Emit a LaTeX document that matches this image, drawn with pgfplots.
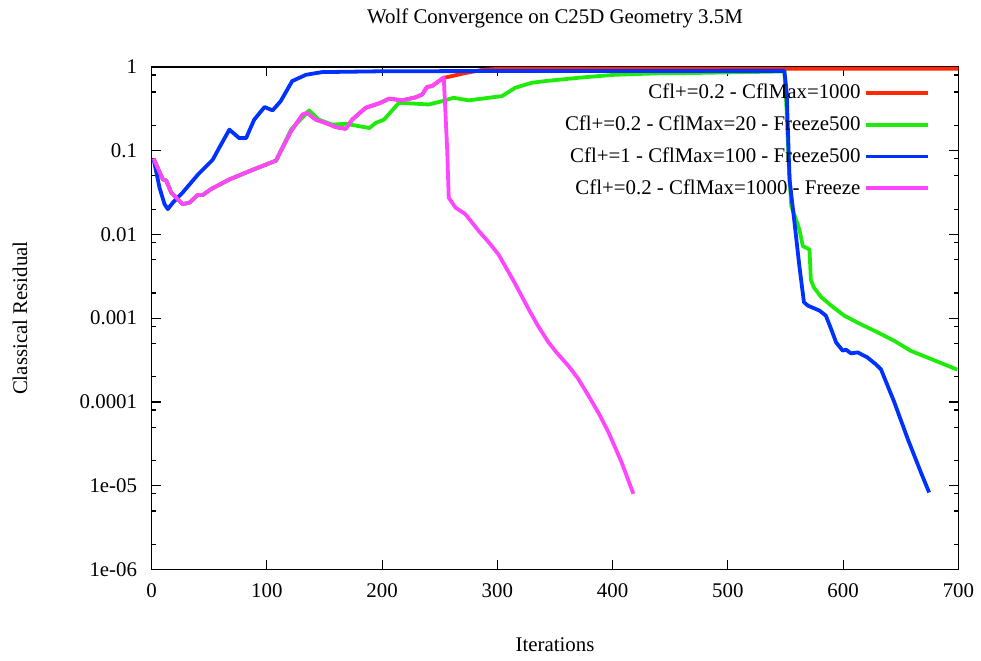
\documentclass[border=0pt]{standalone}
\usepackage{fontspec}
\setmainfont{Liberation Serif}
\usepackage{pgfplots}
\pgfplotsset{compat=1.18}
\definecolor{cred}{RGB}{255,40,0}
\definecolor{cgreen}{RGB}{30,235,10}
\definecolor{cblue}{RGB}{0,50,255}
\definecolor{cpink}{RGB}{255,70,255}
\begin{document}
\fontsize{10.5}{12}\selectfont
\begin{tikzpicture}
\begin{axis}[name=ax,
  scale only axis, width=404.5bp, height=252bp,
  xmin=0, xmax=700, ymin=1e-6, ymax=1, ymode=log,
  xtick={0,100,...,700},
  ytick={1e-6,1e-5,1e-4,1e-3,1e-2,1e-1,1},
  yticklabels={1e-06,1e-05,0.0001,0.001,0.01,0.1,1},
  minor ytick={2e-6,5e-6,8e-6,2e-5,5e-5,8e-5,2e-4,5e-4,8e-4,2e-3,5e-3,8e-3,2e-2,5e-2,8e-2,2e-1,5e-1,8e-1},
  /pgf/number format/assume math mode=true,
  tick label style={font=\fontsize{10.5}{12}\selectfont},
  tick align=inside,
  major tick length=4.5bp, minor tick length=2bp,
  every tick/.style={black, line width=0.6bp},
  axis line style={line width=0.75bp},
  xticklabel style={yshift=-3.6bp},
  yticklabel style={xshift=-3.6bp},
  legend plot pos=right,
  legend cell align=right,
  legend style={at={(1,1)}, anchor=north east, xshift=-11bp, yshift=-4.5bp, draw=none, fill=none, row sep=3.0bp, font=\fontsize{10.5}{12}\selectfont},
  legend image code/.code={\draw[#1] (0bp,0bp) -- (31bp,0bp);},
  every axis plot/.append style={line width=1.9bp, line join=round},
]
\addplot[cred] coordinates {
(1.7,0.0804)(9.8,0.0452)(12.7,0.044)(17,0.0316)(27,0.0229)(33,0.024)(40,0.0295)(44.4,0.0295)(51.6,0.0347)(67.5,0.0452)(84.8,0.0568)(107.9,0.0759)(112,0.098)(120.9,0.170)(131,0.269)(135,0.282)(142.5,0.234)(151,0.214)(159.8,0.191)(168.5,0.182)(174,0.234)(185.7,0.324)(198.7,0.372)(206,0.417)(217.5,0.398)(229,0.432)(234.8,0.468)(239,0.575)(243.4,0.589)(253.5,0.746)(255,0.746)(272,0.841)(287,0.92)(301,0.946)(400,0.95)(700,0.95)
};
\addlegendentry{Cfl+=0.2 - CflMax=1000}
\addplot[cgreen] coordinates {
(1.7,0.0804)(9.8,0.0452)(12.7,0.044)(17,0.0316)(27,0.0229)(33,0.024)(40,0.0295)(44.4,0.0295)(51.6,0.0347)(67.5,0.0452)(84.8,0.0568)(107.9,0.0759)(112,0.098)(121,0.178)(136.7,0.302)(145,0.234)(157,0.204)(168.5,0.209)(189,0.186)(194.4,0.214)(201.6,0.234)(214.6,0.372)(229,0.363)(240.5,0.355)(252,0.389)(262,0.427)(275,0.398)(292.5,0.427)(304,0.447)(315.5,0.562)(330,0.646)(344,0.681)(373,0.746)(402,0.804)(445,0.841)(462.6,0.841)(549,0.881)(551,0.3)(553,0.063)(555,0.0219)(562,0.0115)(565,0.00724)(570.8,0.0066)(572,0.00288)(574.5,0.00234)(581,0.00178)(590,0.00140)(601,0.00107)(615,0.00085)(630,0.000676)(645,0.00053)(658.7,0.000407)(680,0.00031)(699,0.000243)
};
\addlegendentry{Cfl+=0.2 - CflMax=20 - Freeze500}
\addplot[cblue] coordinates {
(1.7,0.080)(6.9,0.036)(11.2,0.023)(14.1,0.020)(18.5,0.024)(27,0.0316)(40,0.0513)(53,0.0776)(59,0.110)(67.5,0.178)(76,0.141)(82,0.141)(89,0.234)(98,0.331)(105,0.302)(112,0.389)(122,0.676)(134,0.804)(148,0.865)(200,0.885)(300,0.891)(549,0.895)(551,0.50)(553.5,0.045)(557.8,0.0138)(562,0.0042)(566,0.00155)(569.4,0.00141)(579.5,0.00123)(585,0.00107)(589.6,0.00074)(594,0.00051)(599.6,0.00041)(602.5,0.00042)(606.8,0.00038)(612.6,0.00039)(621,0.00034)(628.5,0.00028)(632.8,0.000245)(644.3,0.0001)(656,0.0000363)(667.4,0.0000145)(674.6,0.0000083)
};
\addlegendentry{Cfl+=1 - CflMax=100 - Freeze500}
\addplot[cpink] coordinates {
(1.7,0.0804)(9.8,0.0452)(12.7,0.044)(17,0.0316)(27,0.0229)(33,0.024)(40,0.0295)(44.4,0.0295)(51.6,0.0347)(67.5,0.0452)(84.8,0.0568)(107.9,0.0759)(112,0.098)(120.9,0.170)(131,0.269)(135,0.282)(142.5,0.234)(151,0.214)(159.8,0.191)(168.5,0.182)(174,0.234)(185.7,0.324)(198.7,0.372)(206,0.417)(217.5,0.398)(229,0.432)(234.8,0.468)(239,0.575)(243.4,0.589)(253.5,0.746)(256.5,0.1)(257.8,0.0275)(263.6,0.0209)(272.3,0.0174)(283.8,0.011)(292,0.0082)(301,0.00575)(314,0.0028)(327,0.00129)(335,0.00082)(344.4,0.000513)(352,0.00038)(361.7,0.000269)(370,0.00019)(379,0.000119)(388,0.000073)(396.3,4.37e-5)(407.8,1.9e-5)(418,8.0e-6)
};
\addlegendentry{Cfl+=0.2 - CflMax=1000 - Freeze}
\end{axis}
\node at ([yshift=24.5bp]ax.north) {Wolf Convergence on C25D Geometry 3.5M};
\node at ([yshift=-37.5bp]ax.south) {Iterations};
\node[rotate=90] at ([xshift=-66bp]ax.west) {Classical Residual};
\path ([xshift=-76bp,yshift=-45.5bp]ax.south west) rectangle ([xshift=10bp,yshift=33.5bp]ax.north east);
\end{tikzpicture}
\end{document}
